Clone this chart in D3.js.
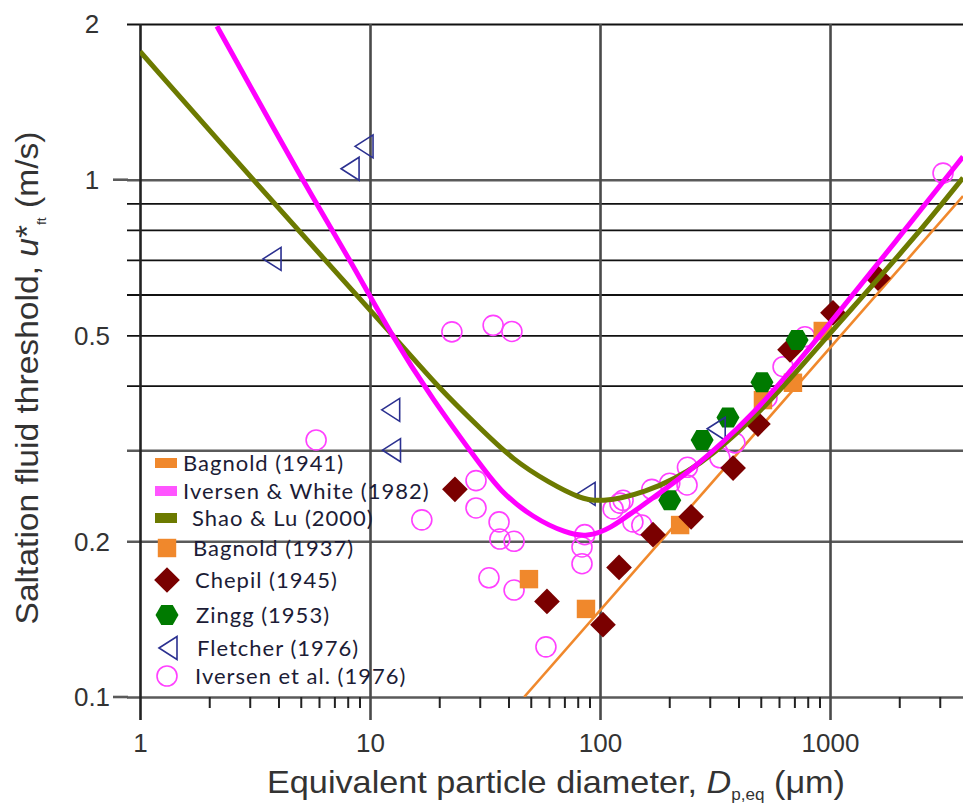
<!DOCTYPE html>
<html lang="en">
<head>
<meta charset="UTF-8">
<title>Saltation fluid threshold</title>
<script src="https://d3js.org/d3.v7.min.js"></script>
<style>
  body { margin: 0; background: #fff; }
  svg { font-family: "Liberation Sans", Arial, sans-serif; }
  .ticklab { font-size: 26px; fill: #333; }
  .legend text { font-family: Lato, "Open Sans", sans-serif; font-size: 22px; letter-spacing: 1px; fill: #1c1c36; }
  .title { font-size: 32px; fill: #333; }
</style>
</head>
<body>
<svg id="chart" width="963" height="803"></svg>
<script>
// axis ticks
const xTickValues = [1, 10, 100, 1000];
const yTickValues = [0.1, 0.2, 0.5, 1, 2];
const yGridValues = [0.1, 0.2, 0.3, 0.4, 0.5, 0.6, 0.7, 0.8, 0.9, 1, 2];

// model curves [diameter um, u*ft m/s]
const bagnold1941 = [[46.8, 0.1], [3786, 0.93]];
const iversenWhite1982 = [[2.16, 1.98], [5.06, 1.0], [8.19, 0.7], [12.4, 0.5], [18.8, 0.375], [29.2, 0.287],
  [36.7, 0.25], [51.1, 0.222], [71.9, 0.207], [87.8, 0.204], [110, 0.211], [149, 0.233], [254, 0.275],
  [463, 0.351], [741, 0.449], [1000, 0.528], [1955, 0.765], [3786, 1.108]];
const shaoLu2000 = [[1, 1.77], [3.1, 1.0], [6.37, 0.7], [12.6, 0.5], [20.2, 0.393], [30.1, 0.331],
  [41.9, 0.287], [60.6, 0.259], [81.9, 0.242], [100, 0.238], [154, 0.247], [272, 0.278], [496, 0.355],
  [741, 0.433], [1030, 0.513], [2296, 0.765], [3786, 1.009]];

// measurements
const bagnold1937 = [[49.1, 0.169], [86.9, 0.148], [223, 0.215], [511, 0.375], [690, 0.405], [930, 0.51]];
const chepil1945 = [[23.4, 0.252], [58.8, 0.153], [103, 0.138], [121, 0.178], [170, 0.206], [249, 0.223],
  [379, 0.277], [486, 0.337], [670, 0.469], [1030, 0.553], [1617, 0.645]];
const zingg1953 = [[201, 0.24], [278, 0.314], [360, 0.347], [506, 0.406], [719, 0.49]];
const fletcher1976 = [[3.75, 0.703], [8.19, 1.05], [9.42, 1.16], [12.3, 0.359], [12.4, 0.30], [87, 0.247], [320, 0.33]];
const iversen1976 = [[5.83, 0.314], [16.8, 0.22], [22.7, 0.508], [34.3, 0.523], [41.4, 0.509], [28.9, 0.262],
  [28.9, 0.232], [36.4, 0.218], [36.7, 0.202], [42.3, 0.20], [32.9, 0.17], [42.3, 0.161], [58.2, 0.125],
  [83.5, 0.195], [83.5, 0.181], [85.8, 0.206], [122, 0.237], [126, 0.24], [114, 0.231], [139, 0.218],
  [152, 0.215], [168, 0.252], [201, 0.259], [239, 0.257], [240, 0.278], [332, 0.29], [386, 0.31],
  [532, 0.379], [625, 0.435], [778, 0.497], [3100, 1.03]];

const legendNames = ["Bagnold (1941)", "Iversen & White (1982)", "Shao & Lu (2000)", "Bagnold (1937)",
  "Chepil (1945)", "Zingg (1953)", "Fletcher (1976)", "Iversen et al. (1976)"];

const orange = "#f0882c", magenta = "#ff00ff", olive = "#6c7a00",
      darkred = "#7a0000", green = "#007a00", navy = "#2b3090", ring = "#ff40ff";

const svg = d3.select("#chart");
const plotLeft = 140, plotRight = 963, plotTop = 24, plotBottom = 697;

const x = d3.scaleLog().domain([1, 3786]).range([plotLeft, plotRight]);
const y = d3.scaleLog().domain([0.1, 2]).range([plotBottom, plotTop]);

svg.append("clipPath").attr("id", "plot")
  .append("rect").attr("x", plotLeft).attr("y", plotTop - 2)
  .attr("width", plotRight - plotLeft).attr("height", plotBottom - plotTop + 2);

// horizontal grid
const isDark = d => (d === 1 || d === 0.3 || d === 0.2 || d === 0.1);
const yGrid = svg.append("g")
  .attr("transform", `translate(${plotRight},0)`)
  .call(d3.axisLeft(y).tickValues(yGridValues).tickSize(plotRight - 127).tickFormat(""));
yGrid.select(".domain").remove();
yGrid.selectAll(".tick line")
  .attr("stroke", d => isDark(d) ? "#5a5a5a" : "#111")
  .attr("stroke-width", d => isDark(d) ? 2.6 : 1.8);
// longer ticks at 1 and 0.1
svg.append("g").selectAll("line").data([1, 0.1]).join("line")
  .attr("x1", 113).attr("x2", 128).attr("y1", d => y(d)).attr("y2", d => y(d))
  .attr("stroke", "#5a5a5a").attr("stroke-width", 2.6);

// vertical grid
const xGrid = svg.append("g")
  .attr("transform", `translate(0,${plotTop})`)
  .call(d3.axisBottom(x).tickValues(xTickValues).tickSize(720 - plotTop).tickFormat(""));
xGrid.select(".domain").remove();
xGrid.selectAll(".tick line")
  .attr("stroke", d => d === 1 ? "#222" : "#4a4a4a")
  .attr("stroke-width", 2.6);

// minor ticks
const minor = svg.append("g")
  .attr("transform", `translate(0,${plotBottom})`)
  .call(d3.axisBottom(x).tickValues(x.ticks().filter(v => !xTickValues.includes(v) && v < 3786))
    .tickSize(11).tickFormat(""));
minor.select(".domain").remove();
minor.selectAll(".tick line").attr("stroke", "#222").attr("stroke-width", 2);

// tick labels
svg.append("g").attr("class", "ticklab")
  .selectAll("text").data(yTickValues).join("text")
  .attr("x", 92).attr("y", d => y(d)).attr("dy", "0.36em")
  .attr("text-anchor", "middle").text(d => d);

const xLab = svg.append("g").attr("class", "ticklab")
  .attr("transform", "translate(0,720)")
  .call(d3.axisBottom(x).tickValues(xTickValues).tickSize(0).tickPadding(14).tickFormat(d => d));
xLab.select(".domain").remove();
xLab.selectAll("text").attr("font-size", 26).attr("fill", "#333");

const plot = svg.append("g").attr("clip-path", "url(#plot)");

const line = d3.line().x(d => x(d[0])).y(d => y(d[1]));
const curve = d3.line().x(d => x(d[0])).y(d => y(d[1])).curve(d3.curveBasis);

plot.append("path").datum(bagnold1941).attr("d", line)
  .attr("fill", "none").attr("stroke", orange).attr("stroke-width", 2.6);

// marker shapes
const square = d3.symbol(d3.symbolSquare, 340);
const diamond = d3.symbol(d3.symbolSquare, 330);
function hexagon(r) {
  const p = d3.path();
  for (let i = 0; i < 6; i++) {
    const a = Math.PI / 3 * i;
    if (i === 0) p.moveTo(r * Math.cos(a), r * Math.sin(a));
    else p.lineTo(r * Math.cos(a), r * Math.sin(a));
  }
  p.closePath();
  return p.toString();
}
function leftTriangle(w, h) {
  return `M${-w / 2},0L${w / 2},${-h / 2}L${w / 2},${h / 2}Z`;
}

plot.append("g").selectAll("circle").data(iversen1976).join("circle")
  .attr("cx", d => x(d[0])).attr("cy", d => y(d[1])).attr("r", 10)
  .attr("fill", "none").attr("stroke", ring).attr("stroke-width", 1.6);

plot.append("g").selectAll("path").data(bagnold1937).join("path")
  .attr("d", square).attr("transform", d => `translate(${x(d[0])},${y(d[1])})`).attr("fill", orange);

plot.append("g").selectAll("path").data(chepil1945).join("path")
  .attr("d", diamond).attr("transform", d => `translate(${x(d[0])},${y(d[1])}) rotate(45)`).attr("fill", darkred);

plot.append("g").selectAll("path").data(zingg1953).join("path")
  .attr("d", hexagon(11.5)).attr("transform", d => `translate(${x(d[0])},${y(d[1])})`).attr("fill", green);

plot.append("g").selectAll("path").data(fletcher1976).join("path")
  .attr("d", leftTriangle(18, 23)).attr("transform", d => `translate(${x(d[0])},${y(d[1])})`)
  .attr("fill", "none").attr("stroke", navy).attr("stroke-width", 1.6);

plot.append("path").datum(shaoLu2000).attr("d", curve)
  .attr("fill", "none").attr("stroke", olive).attr("stroke-width", 5);
plot.append("path").datum(iversenWhite1982).attr("d", curve)
  .attr("fill", "none").attr("stroke", magenta).attr("stroke-width", 5);

// legend
const rowY = [463, 491, 518, 548, 580, 615, 648, 676];
const textX = [183, 183, 192, 193, 195, 196, 197, 195];
const legend = svg.append("g").attr("class", "legend");
const rows = legend.selectAll("g").data(legendNames).join("g")
  .attr("transform", (d, i) => `translate(0,${rowY[i]})`);
rows.append("text").attr("x", (d, i) => textX[i]).attr("dy", "0.35em").text(d => d);
rows.each(function (d, i) {
  const g = d3.select(this);
  if (i < 3) {
    g.append("rect").attr("x", 155).attr("y", -5).attr("width", 22).attr("height", 10)
      .attr("fill", [orange, "#ff55ff", olive][i]);
  } else if (i === 3) {
    g.append("path").attr("d", square).attr("transform", "translate(167,0)").attr("fill", orange);
  } else if (i === 4) {
    g.append("path").attr("d", diamond).attr("transform", "translate(167,0) rotate(45)").attr("fill", darkred);
  } else if (i === 5) {
    g.append("path").attr("d", hexagon(11.5)).attr("transform", "translate(167,0)").attr("fill", green);
  } else if (i === 6) {
    g.append("path").attr("d", leftTriangle(18, 23)).attr("transform", "translate(168,0)")
      .attr("fill", "none").attr("stroke", navy).attr("stroke-width", 1.6);
  } else {
    g.append("circle").attr("cx", 167).attr("r", 10)
      .attr("fill", "none").attr("stroke", ring).attr("stroke-width", 1.6);
  }
});

// axis titles
const xt = svg.append("text").attr("class", "title")
  .attr("transform", "translate(556,793) scale(1.07,1)").attr("text-anchor", "middle");
xt.append("tspan").text("Equivalent particle diameter, ");
xt.append("tspan").attr("font-style", "italic").text("D");
xt.append("tspan").attr("font-size", 16).attr("dy", 7).text("p,eq");
xt.append("tspan").attr("dy", -7).text(" (μm)");

const yt = svg.append("text").attr("class", "title")
  .attr("transform", "translate(38,378) rotate(-90) scale(1.05,1)").attr("text-anchor", "middle");
yt.append("tspan").text("Saltation fluid threshold, ");
yt.append("tspan").attr("font-style", "italic").text("u");
yt.append("tspan").text("*");
yt.append("tspan").attr("font-size", 13).attr("dy", 8).text("ft");
yt.append("tspan").attr("dy", -8).text(" (m/s)");
</script>
</body>
</html>
